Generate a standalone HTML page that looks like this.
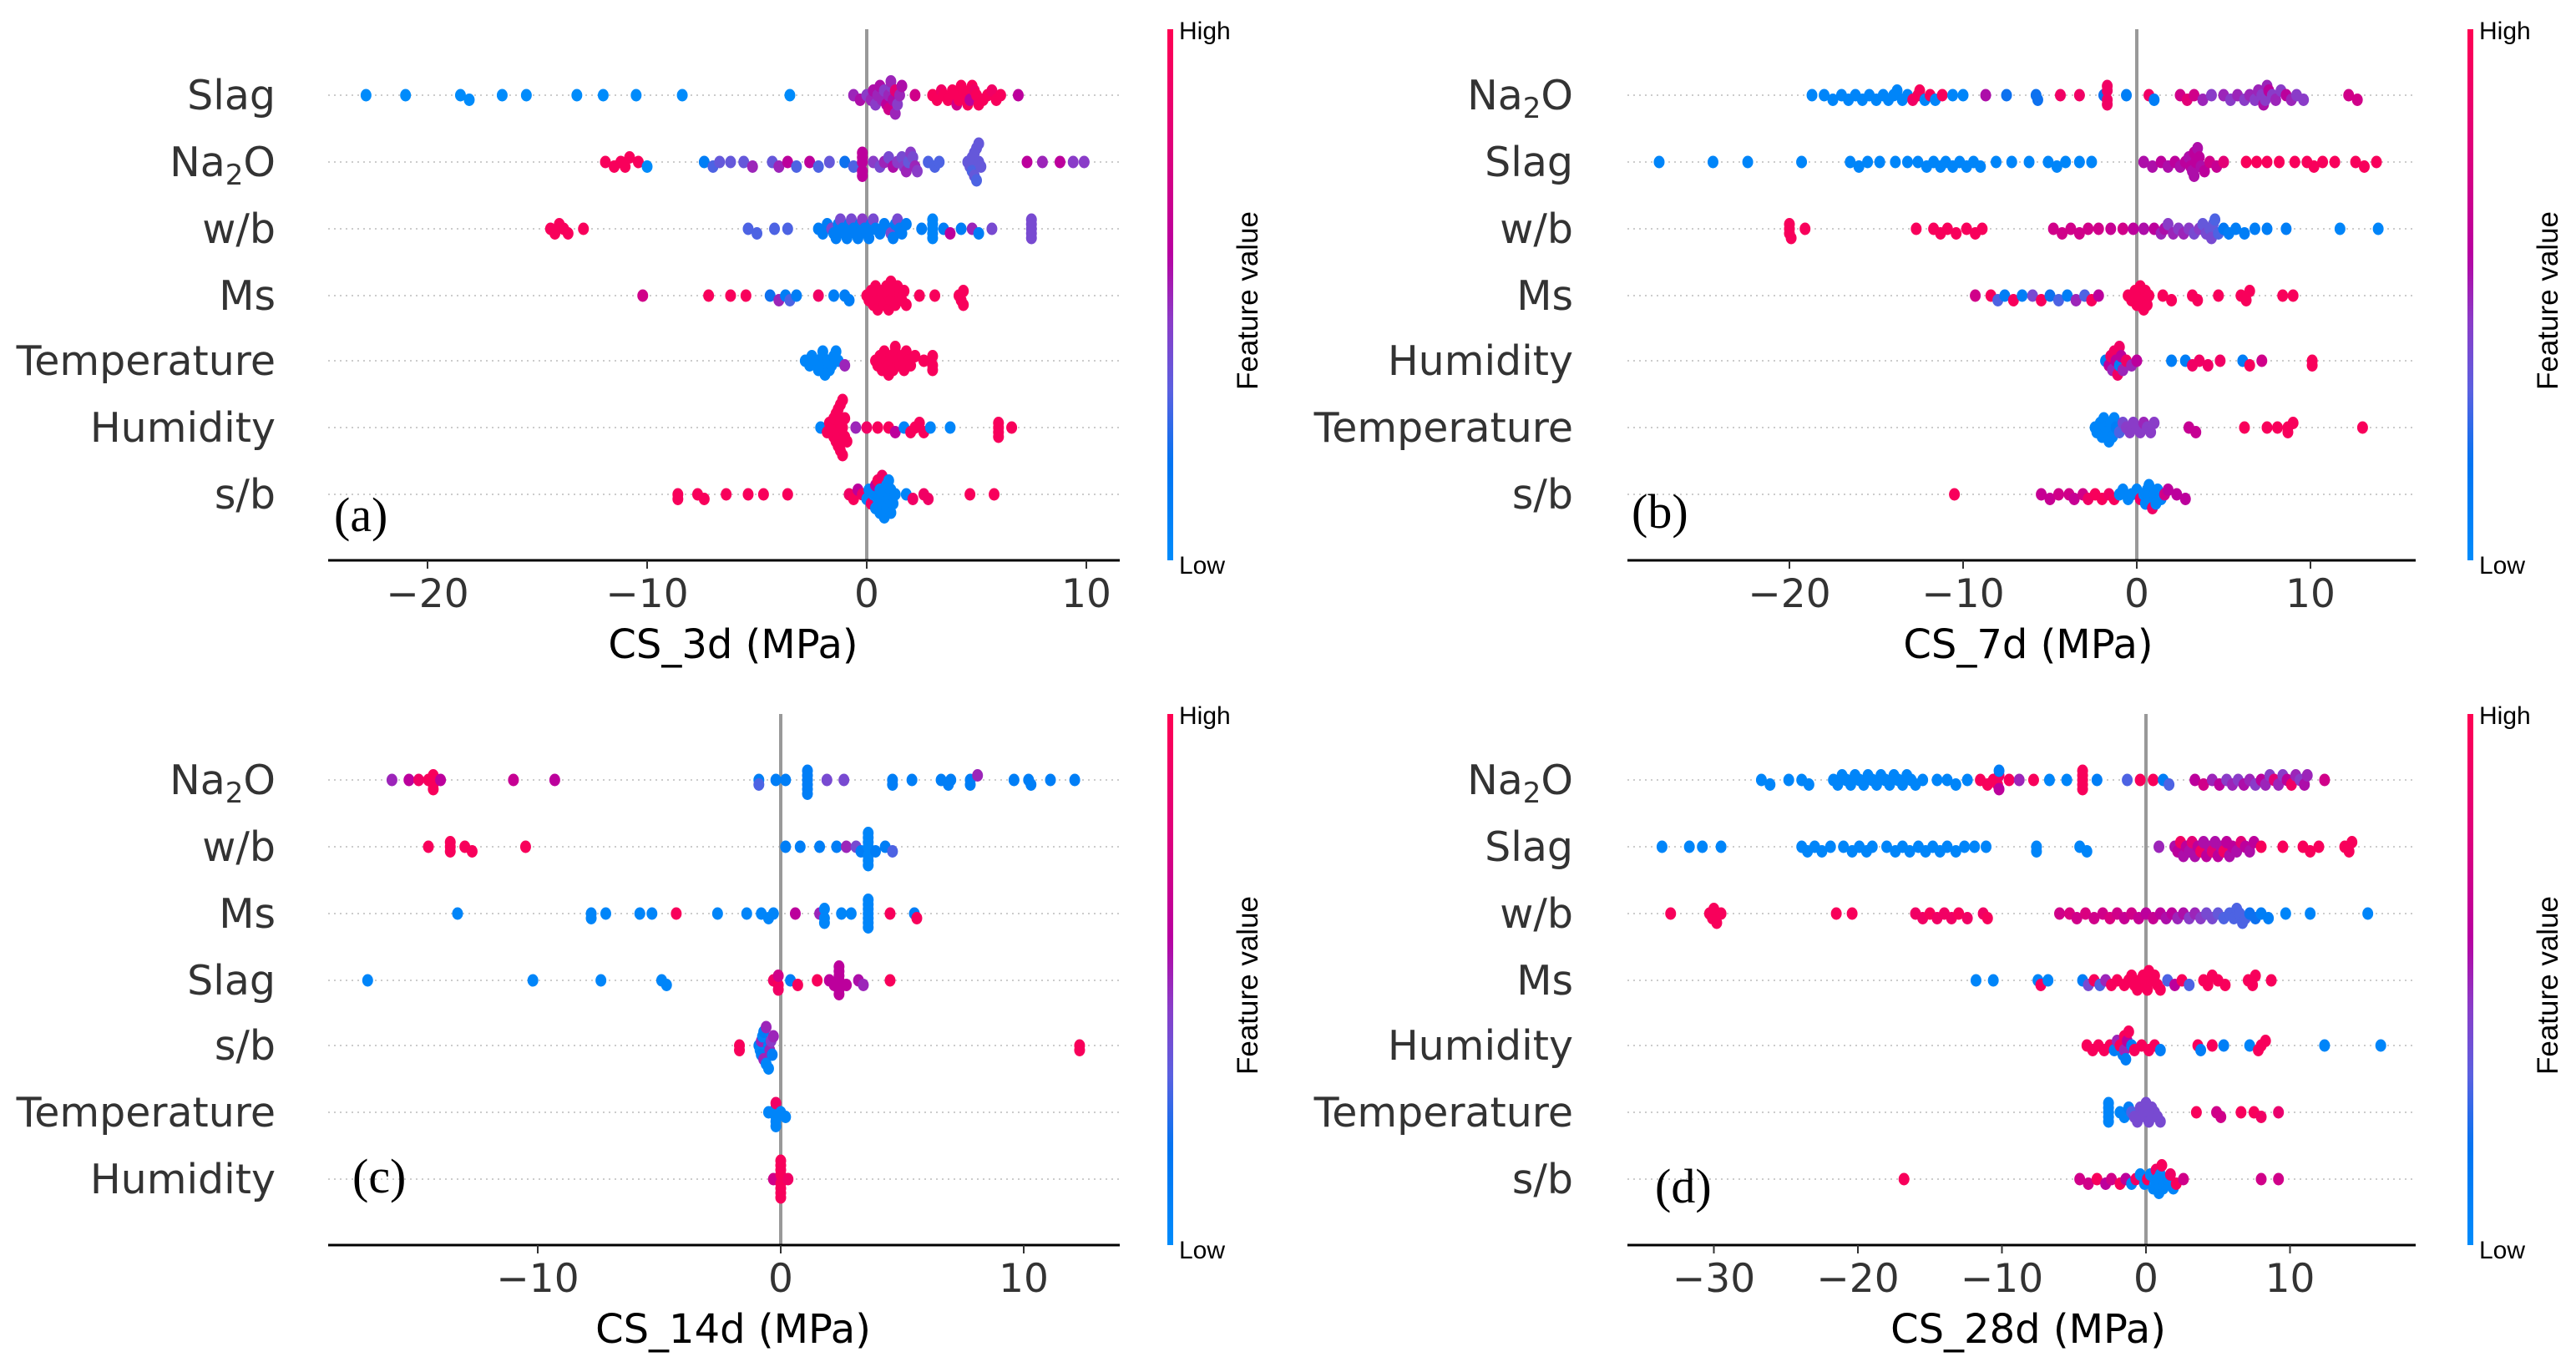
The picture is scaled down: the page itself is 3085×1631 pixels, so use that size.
<!DOCTYPE html>
<html><head><meta charset="utf-8">
<style>
html,body{margin:0;padding:0;background:#fff;}
svg{display:block;}
</style></head>
<body>
<svg id="fig" width="3085" height="1631" viewBox="0 0 3085 1631" xmlns="http://www.w3.org/2000/svg">
<defs>
<linearGradient id="cbgrad" x1="0" y1="1" x2="0" y2="0">
<stop offset="0" stop-color="#008bfb"/>
<stop offset="0.18" stop-color="#0074f2"/>
<stop offset="0.32" stop-color="#5a60e0"/>
<stop offset="0.45" stop-color="#8a3cc8"/>
<stop offset="0.58" stop-color="#b800a0"/>
<stop offset="0.78" stop-color="#e0007a"/>
<stop offset="1" stop-color="#ff0052"/>
</linearGradient>
</defs>
</svg>
<script>
// ---------- DATA ----------
const featuresA = ["Slag","Na2O","w/b","Ms","Temperature","Humidity","s/b"];
const ticksA = [-20,-10,0,10];
const xA = [
 [-22.8,-21,-18.5,-18.1,-16.6,-15.5,-13.2,-12,-10.5,-8.4,-3.5,-0.6,-0.3,0,0.2,0.3,0.4,0.5,0.6,0.7,0.8,0.9,1,1,1.1,1.1,1.2,1.3,1.3,1.4,1.5,1.6,2.2,3.0,3.2,3.4,3.5,3.7,3.9,4.0,4.1,4.2,4.3,4.4,4.5,4.6,4.7,4.8,4.9,5.0,5.1,5.3,5.5,5.7,5.9,6.1,6.9],
 [-11.9,-11.5,-11.2,-11.0,-10.8,-10.4,-10.0,-7.4,-7.0,-6.7,-6.2,-5.6,-5.2,-4.3,-4.0,-3.6,-3.2,-2.6,-2.2,-1.7,-1.0,-0.6,-0.2,-0.2,-0.2,-0.2,-0.2,0.3,0.6,0.8,1.0,1.2,1.4,1.6,1.7,1.8,1.9,2.0,2.1,2.2,2.3,2.8,3.1,3.3,4.6,4.7,4.8,4.8,4.9,4.9,5.0,5.0,5.1,5.1,5.2,7.3,8.0,8.8,9.4,9.9],
 [-14.4,-14.2,-14.0,-13.8,-13.6,-12.9,-5.4,-5.0,-4.2,-3.6,-2.2,-2.0,-1.8,-1.6,-1.5,-1.4,-1.3,-1.2,-1.1,-1.0,-0.9,-0.8,-0.7,-0.6,-0.5,-0.4,-0.3,-0.2,-0.1,0,0.1,0.2,0.3,0.4,0.6,0.8,1.0,1.1,1.2,1.3,1.4,1.5,1.6,1.8,2.5,3.0,3.0,3.0,3.0,3.0,3.5,3.8,4.3,4.8,5.1,5.7,7.5,7.5,7.5,7.5,7.5],
 [-10.2,-7.2,-6.2,-5.5,-4.4,-4.0,-3.7,-3.5,-3.2,-2.2,-1.5,-1.0,-0.8,0,0.1,0.2,0.3,0.4,0.5,0.5,0.6,0.7,0.8,0.9,1.0,1.0,1.1,1.1,1.2,1.3,1.4,1.5,1.6,1.7,1.8,2.4,3.1,4.2,4.3,4.4,4.4],
 [-2.8,-2.6,-2.5,-2.3,-2.2,-2.1,-2.0,-2.0,-1.9,-1.8,-1.7,-1.6,-1.5,-1.4,-1.3,-1.0,0.4,0.5,0.6,0.7,0.8,0.9,1.0,1.0,1.1,1.2,1.3,1.3,1.4,1.5,1.6,1.7,1.8,1.9,2.0,2.2,2.6,3.0,3.0,3.0],
 [-2.1,-1.8,-1.7,-1.6,-1.5,-1.5,-1.4,-1.4,-1.3,-1.3,-1.3,-1.2,-1.2,-1.2,-1.1,-1.1,-1.1,-1.0,-1.0,-0.9,-0.5,0.0,0.5,1.0,1.3,1.7,2.0,2.2,2.4,2.6,2.9,3.8,6.0,6.0,6.0,6.0,6.6],
 [-8.6,-8.6,-7.7,-7.4,-6.4,-5.4,-4.7,-3.6,-0.8,-0.6,-0.4,-0.2,0,0.1,0.2,0.3,0.4,0.4,0.5,0.5,0.6,0.6,0.7,0.7,0.8,0.8,0.9,0.9,1.0,1.0,1.1,1.1,1.2,1.3,1.8,2.1,2.6,2.8,4.7,5.8]
];
const cA = [
 [0,0,0,0,0,0,0,0,0,0,0,.5,.55,.45,.5,.55,.45,.5,.55,.5,.45,.6,.5,.7,.45,.5,.55,.8,.5,.45,.5,.55,.7,.95,.95,.9,.95,.95,.95,.95,.7,.95,.95,.95,.95,.95,.6,.95,.9,.95,.95,.95,.95,.9,.95,.95,.6],
 [.95,.95,.95,.95,.95,.95,0,.1,.3,.35,.35,.35,.5,.35,.5,.6,.3,.6,.3,.35,.2,.3,.6,.6,.6,.6,.6,.45,.4,.5,.4,.55,.45,.4,.45,.5,.35,.45,.4,.5,.45,.3,.3,.3,.35,.35,.35,.3,.35,.35,.35,.3,.35,.35,.35,.6,.5,.6,.45,.45],
 [.95,.95,.95,.95,.95,.95,.3,.3,.3,.3,.1,.1,.1,.4,.1,.1,.1,.4,.1,.1,.1,.1,.4,.1,.1,.1,.1,.45,.1,.1,.1,.1,.4,.1,.1,.1,.1,.4,.1,.1,.4,.1,.1,.1,.1,.05,.05,.05,.05,.05,.1,.6,.1,.5,.1,.4,.4,.4,.4,.4,.4],
 [.7,.95,.95,.95,.2,.5,.1,.3,.1,.9,.1,.1,.1,.95,.95,.95,.95,.95,.95,.95,.95,.95,.95,.95,.95,.95,.95,.95,.95,.95,.95,.95,.95,.95,.95,.95,.95,.95,.95,.95,.95],
 [.05,.05,.05,.05,.05,.05,.05,.05,.05,.05,.05,.05,.05,.05,.05,.5,.95,.95,.95,.95,.95,.95,.95,.95,.95,.95,.95,.95,.95,.95,.95,.95,.95,.95,.95,.95,.95,.95,.95,.95],
 [.05,.95,.95,.95,.95,.95,.95,.95,.95,.95,.95,.95,.95,.95,.95,.95,.95,.95,.95,.95,.5,.9,.95,.95,.6,.05,.95,.95,.95,.95,.05,.05,.95,.95,.95,.95,.95],
 [.95,.95,.95,.95,.95,.95,.95,.95,.9,.95,.6,.9,.05,.05,.9,.05,.6,.05,.05,.95,.05,.05,.05,.9,.05,.05,.05,.05,.05,.05,.05,.05,.05,.05,.05,.9,.9,.9,.95,.95]
];

const featuresB = ["Na2O","Slag","w/b","Ms","Humidity","Temperature","s/b"];
const ticksB = [-20,-10,0,10];
const xB = [
 [-18.7,-18.0,-17.5,-17.0,-16.6,-16.2,-15.8,-15.4,-15.0,-14.6,-14.3,-14.0,-13.8,-13.5,-13.2,-12.9,-12.6,-12.5,-12.2,-11.9,-11.6,-11.2,-10.6,-10.0,-8.7,-7.5,-5.8,-5.7,-4.4,-3.3,-1.9,-1.7,-1.7,-1.7,-1.7,-0.6,0.7,1.0,2.5,2.9,3.3,3.8,4.3,5.0,5.4,5.8,6.2,6.5,6.8,7.0,7.2,7.3,7.4,7.5,7.6,7.8,8.0,8.3,8.6,8.9,9.2,9.6,12.2,12.7],
 [-27.5,-24.4,-22.4,-19.3,-16.5,-16.0,-15.5,-14.8,-13.9,-13.2,-12.6,-12.1,-11.7,-11.3,-11.0,-10.6,-10.2,-9.8,-9.4,-9.0,-8.1,-7.2,-6.2,-5.1,-4.6,-4.1,-3.3,-2.6,0.4,0.9,1.4,1.8,2.2,2.5,2.8,3.0,3.1,3.2,3.3,3.3,3.4,3.5,3.6,3.7,3.9,4.2,4.6,5.0,6.3,6.9,7.5,8.2,9.1,9.8,10.2,10.7,11.4,12.6,13.1,13.8],
 [-20.0,-20.0,-20.0,-19.9,-19.1,-12.7,-11.7,-11.3,-10.9,-10.4,-9.8,-9.3,-8.9,-4.8,-4.3,-3.8,-3.3,-2.8,-2.2,-1.5,-0.8,-0.2,0.4,1.0,1.4,1.6,1.8,2.1,2.4,2.7,3.0,3.3,3.6,3.8,4.0,4.2,4.3,4.4,4.5,4.7,5.0,5.3,5.7,6.2,6.8,7.5,8.6,11.7,13.9],
 [-9.3,-8.4,-8.0,-7.6,-7.1,-6.6,-6.0,-5.5,-5.0,-4.5,-4.0,-3.5,-3.0,-2.6,-2.2,-0.5,-0.3,-0.1,0,0.1,0.2,0.3,0.4,0.5,0.6,0.7,1.5,2.0,3.2,3.5,4.7,6.0,6.3,6.5,8.4,9.0],
 [-1.8,-1.6,-1.5,-1.4,-1.3,-1.2,-1.1,-1.0,-1.0,-0.9,-0.8,-0.6,-0.3,0,2.0,2.8,3.2,3.6,4.1,4.8,6.1,6.5,7.2,10.1,10.1],
 [-2.4,-2.3,-2.1,-2.0,-1.9,-1.8,-1.7,-1.6,-1.5,-1.4,-1.3,-1.2,-1.0,-0.8,-0.6,-0.4,-0.2,0,0.2,0.4,0.6,0.8,1.0,3.0,3.4,6.2,7.5,8.1,8.7,8.7,9.0,13.0],
 [-10.5,-5.5,-5.0,-4.5,-3.9,-3.6,-3.1,-2.8,-2.4,-2.0,-1.6,-1.3,-1.0,-0.8,-0.5,-0.3,0,0.2,0.4,0.5,0.6,0.7,0.8,0.9,1.0,1.1,1.2,1.4,1.6,1.8,2.3,2.8]
];
const cB = [
 [.05,.05,.05,.05,.05,.05,.05,.05,.05,.05,.05,.05,.05,.05,.05,.9,.95,.95,.05,.95,.05,.95,.05,.05,.55,.2,.2,.2,.9,.9,.2,.9,.9,.9,.9,.1,.9,.1,.7,.8,.7,.5,.45,.5,.45,.5,.45,.5,.45,.5,.45,.55,.45,.5,.6,.45,.5,.45,.6,.5,.45,.45,.7,.7],
 [.05,.05,.05,.05,.05,.05,.05,.05,.05,.05,.05,.05,.05,.05,.05,.05,.05,.05,.05,.05,.05,.05,.05,.05,.05,.05,.05,.05,.55,.55,.6,.55,.6,.55,.6,.55,.6,.55,.6,.55,.6,.55,.6,.55,.6,.7,.65,.8,.95,.95,.95,.95,.95,.95,.95,.95,.95,.95,.95,.95],
 [.95,.95,.95,.95,.95,.95,.95,.95,.95,.95,.95,.95,.95,.7,.7,.7,.7,.7,.7,.65,.7,.6,.55,.6,.5,.55,.45,.5,.45,.5,.45,.4,.45,.35,.4,.35,.4,.35,.3,.3,.15,.1,.1,.1,.1,.1,.1,.05,.05],
 [.7,.95,.3,.1,.95,.1,.4,.95,.2,.3,.1,.5,.3,.95,.6,.95,.95,.95,.95,.95,.95,.95,.95,.95,.95,.95,.95,.95,.95,.95,.95,.95,.95,.95,.95,.95],
 [.1,.6,.9,.5,.9,.6,.9,.1,.9,.6,.5,.9,.5,.6,.1,.1,.9,.9,.9,.9,.1,.95,.7,.95,.95],
 [.05,.05,.05,.05,.05,.05,.05,.05,.05,.05,.05,.1,.3,.4,.45,.45,.45,.45,.45,.5,.45,.45,.45,.65,.65,.95,.95,.95,.95,.95,.95,.95],
 [.95,.65,.65,.7,.7,.65,.7,.9,.95,.95,.9,.95,.05,.05,.05,.05,.05,.9,.05,.05,.05,.05,.05,.9,.05,.05,.05,.05,.7,.6,.6,.6]
];

const featuresC = ["Na2O","w/b","Ms","Slag","s/b","Temperature","Humidity"];
const ticksC = [-10,0,10];
const xC = [
 [-16.0,-15.3,-14.9,-14.5,-14.3,-14.3,-14.3,-14.0,-11.0,-9.3,-0.9,-0.9,-0.2,0.2,1.1,1.1,1.1,1.1,1.1,1.1,1.9,2.6,4.6,4.6,5.4,6.6,6.9,7.0,7.8,7.8,8.1,9.6,10.2,10.3,11.1,12.1],
 [-14.5,-13.6,-13.6,-13.6,-13.0,-12.7,-10.5,0.2,0.8,1.6,2.3,2.7,3.1,3.3,3.6,3.6,3.6,3.6,3.6,3.6,3.6,3.9,4.3,4.6],
 [-13.3,-7.8,-7.8,-7.2,-5.8,-5.3,-4.3,-2.6,-1.4,-0.8,-0.5,-0.3,0.6,1.6,1.8,1.8,1.8,2.5,2.9,3.6,3.6,3.6,3.6,3.6,3.6,3.6,4.5,5.5,5.6],
 [-17.0,-10.2,-7.4,-4.9,-4.7,-0.3,-0.1,-0.1,-0.1,0.4,0.7,1.5,2.0,2.2,2.4,2.4,2.4,2.4,2.4,2.4,2.7,3.2,3.4,4.5],
 [-1.7,-1.7,-0.9,-0.85,-0.8,-0.8,-0.75,-0.7,-0.7,-0.6,-0.6,-0.5,-0.5,-0.45,-0.4,-0.35,-0.3,12.3,12.3],
 [-0.5,-0.2,-0.2,-0.2,-0.2,-0.2,0,0.2],
 [-0.3,0,0,0,0,0,0,0,0,0.3]
];
const cC = [
 [.5,.6,.9,.95,.95,.95,.95,.6,.65,.6,.1,.3,.1,.1,.1,.1,.1,.1,.1,.1,.4,.4,.1,.1,.1,.1,.1,.1,.1,.1,.5,.1,.1,.1,.1,.1],
 [.95,.95,.95,.95,.95,.95,.95,.1,.1,.1,.1,.5,.4,.1,.05,.05,.05,.05,.05,.05,.05,.1,.1,.3],
 [.05,.05,.05,.05,.05,.05,.95,.05,.05,.05,.05,.05,.6,.5,.05,.05,.05,.05,.05,.05,.05,.05,.05,.05,.05,.05,.95,.1,.95],
 [.05,.05,.05,.05,.05,.9,.95,.7,.9,.1,.95,.95,.6,.6,.6,.6,.6,.6,.6,.6,.6,.55,.5,.95],
 [.95,.95,.1,.05,.5,.1,.05,.5,.1,.05,.5,.1,.05,.5,.45,.1,.5,.95,.95],
 [.05,.05,.05,.05,.9,.05,.05,.05],
 [.7,.95,.95,.95,.95,.95,.95,.95,.95,.9]
];

const featuresD = ["Na2O","Slag","w/b","Ms","Humidity","Temperature","s/b"];
const ticksD = [-30,-20,-10,0,10];
const xD = [
 [-26.7,-26.1,-24.8,-23.9,-23.4,-21.7,-21.4,-21.1,-20.8,-20.5,-20.2,-19.9,-19.6,-19.3,-19.0,-18.7,-18.4,-18.1,-17.8,-17.5,-17.2,-16.9,-16.6,-16.3,-16.0,-15.5,-14.5,-13.8,-13.2,-12.4,-11.5,-11.0,-10.6,-10.3,-10.2,-10.2,-10.2,-9.5,-8.8,-7.8,-6.7,-5.5,-4.4,-4.4,-4.4,-4.4,-4.4,-3.4,-1.3,-0.4,0.5,1.2,1.6,3.4,4.0,4.6,5.1,5.6,6.0,6.4,6.8,7.2,7.6,8.0,8.3,8.6,8.9,9.2,9.5,9.8,10.1,10.4,10.7,11.0,11.2,12.4],
 [-33.6,-31.7,-30.8,-29.5,-23.9,-23.5,-23.0,-22.5,-21.9,-21.0,-20.4,-19.9,-19.4,-19.0,-18.0,-17.4,-16.9,-16.4,-15.8,-15.3,-14.8,-14.3,-13.8,-13.2,-12.6,-11.9,-11.1,-7.6,-7.6,-4.6,-4.1,0.9,2.0,2.2,2.4,2.6,2.8,3.0,3.2,3.4,3.6,3.8,4.0,4.2,4.4,4.6,4.8,5.0,5.2,5.4,5.6,5.8,6.0,6.3,6.6,6.9,7.2,7.5,8.0,9.5,10.9,11.4,12.0,13.8,14.1,14.3],
 [-33.0,-30.3,-30.1,-30.0,-29.8,-29.5,-21.5,-20.4,-16.0,-15.5,-15.0,-14.5,-14.0,-13.5,-13.0,-12.4,-11.3,-11.0,-6.0,-5.3,-4.8,-4.2,-3.6,-3.0,-2.5,-2.0,-1.5,-1.0,-0.5,0,0.5,1.0,1.4,1.8,2.2,2.6,3.0,3.4,3.8,4.2,4.6,5.0,5.4,5.8,6.1,6.3,6.5,6.7,6.9,7.2,7.6,8.0,8.5,9.7,11.4,15.4],
 [-11.8,-10.6,-7.5,-7.3,-6.8,-4.4,-4.0,-3.6,-3.2,-2.8,-2.4,-2.0,-1.5,-1.2,-1.0,-0.8,-0.6,-0.4,-0.2,0,0.1,0.2,0.4,0.6,0.8,1.0,1.5,2.0,2.5,3.0,4.0,4.3,4.6,5.0,5.5,7.1,7.4,7.6,8.7],
 [-4.1,-3.7,-3.3,-2.9,-2.5,-2.2,-2.0,-1.8,-1.6,-1.5,-1.5,-1.4,-1.3,-1.2,-1.0,-0.8,-0.3,0.2,0.6,1.0,3.6,3.8,4.6,5.4,7.2,7.8,8.0,8.3,12.4,16.3],
 [-2.6,-2.6,-2.6,-2.6,-2.6,-1.8,-1.5,-1.2,-1.0,-0.8,-0.6,-0.4,-0.2,0,0,0.2,0.4,0.6,0.8,1.0,3.5,4.9,5.2,6.6,7.5,8.0,9.2],
 [-16.8,-4.6,-4.0,-3.4,-2.8,-2.4,-1.8,-1.4,-1.0,-0.7,-0.4,-0.1,0.1,0.3,0.5,0.6,0.7,0.8,0.9,1.0,1.1,1.2,1.3,1.5,1.7,1.9,2.1,2.6,8.0,9.2]
];
const cD = [
 [.05,.05,.05,.05,.05,.05,.05,.05,.05,.05,.05,.05,.05,.05,.05,.05,.05,.05,.05,.05,.05,.05,.05,.05,.05,.05,.05,.05,.05,.05,.95,.95,.95,.95,.9,.6,.1,.95,.5,.95,.05,.05,.95,.95,.95,.95,.95,.1,.3,.95,.95,.1,.3,.6,.7,.5,.6,.45,.5,.45,.55,.5,.45,.6,.5,.45,.8,.5,.45,.6,.9,.5,.45,.55,.5,.7],
 [.05,.05,.05,.05,.05,.05,.05,.05,.05,.05,.05,.05,.05,.05,.05,.05,.05,.05,.05,.05,.05,.05,.05,.05,.05,.05,.05,.05,.05,.05,.05,.5,.55,.6,.9,.55,.6,.55,.8,.55,.6,.9,.55,.6,.55,.8,.55,.6,.55,.9,.6,.55,.6,.55,.8,.6,.55,.6,.95,.95,.95,.95,.95,.95,.95,.95],
 [.95,.95,.95,.95,.95,.95,.95,.95,.9,.9,.95,.9,.9,.9,.95,.9,.9,.95,.7,.75,.7,.75,.7,.7,.75,.7,.65,.7,.65,.6,.65,.6,.55,.6,.5,.55,.45,.5,.45,.4,.4,.35,.3,.3,.3,.3,.3,.3,.3,.2,.2,.1,.1,.05,.05,.05],
 [.05,.05,.05,.95,.05,.1,.4,.95,.3,.5,.95,.95,.95,.95,.95,.95,.95,.95,.95,.95,.95,.95,.95,.95,.95,.95,.3,.6,.95,.3,.95,.95,.95,.95,.95,.95,.95,.95,.95],
 [.95,.95,.95,.95,.95,.1,.5,.95,.1,.5,.95,.1,.6,.95,.1,.95,.95,.95,.95,.1,.95,.1,.95,.1,.05,.95,.95,.95,.05,.05],
 [.05,.05,.05,.05,.05,.05,.05,.1,.3,.4,.4,.4,.4,.4,.4,.4,.4,.4,.4,.4,.95,.7,.7,.95,.95,.9,.85],
 [.95,.7,.7,.95,.6,.7,.95,.6,.05,.9,.05,.05,.95,.05,.05,.05,.9,.05,.05,.05,.95,.05,.05,.05,.9,.05,.95,.7,.7,.7]
];

// ---------- LAYOUT ----------
const panels = [
 {id:"a", feats:featuresA, xs:xA, cs:cA, ticks:ticksA, ox:0,    oy:0,   x0:1038, ppu:26.3, axL:393,  axR:1341, labR:330,  cbX:1398, title:"CS_3d (MPa)",  titleX:878, tag:"(a)", tagX:400,  tagY:636},
 {id:"b", feats:featuresB, xs:xB, cs:cB, ticks:ticksB, ox:1540, oy:0,   x0:1019, ppu:20.8, axL:409,  axR:1353, labR:344,  cbX:1415, title:"CS_7d (MPa)",  titleX:889, tag:"(b)", tagX:414,  tagY:632},
 {id:"c", feats:featuresC, xs:xC, cs:cC, ticks:ticksC, ox:0,    oy:820, x0:935,  ppu:29.1, axL:393,  axR:1341, labR:330,  cbX:1398, title:"CS_14d (MPa)", titleX:878, tag:"(c)", tagX:422,  tagY:608},
 {id:"d", feats:featuresD, xs:xD, cs:cD, ticks:ticksD, ox:1540, oy:820, x0:1030, ppu:17.25,axL:409,  axR:1353, labR:344,  cbX:1415, title:"CS_28d (MPa)", titleX:889, tag:"(d)", tagX:442,  tagY:620}
];
const rowY = [114,194,274,354,432,512,592];
const axisY = 671, topY = 35;

const NS = "http://www.w3.org/2000/svg";
const svg = document.getElementById('fig');
function mk(tag, attrs, parent){
  const e = document.createElementNS(NS, tag);
  for (const k in attrs) e.setAttribute(k, attrs[k]);
  (parent||svg).appendChild(e);
  return e;
}
const stops = [[0,[0,139,251]],[0.18,[0,116,242]],[0.32,[90,96,224]],[0.45,[138,60,200]],[0.58,[184,0,160]],[0.78,[224,0,122]],[1,[255,0,82]]];
function cmap(v){
  for (let i=1;i<stops.length;i++){
    if (v<=stops[i][0]){
      const t=(v-stops[i-1][0])/(stops[i][0]-stops[i-1][0]);
      const a=stops[i-1][1], b=stops[i][1];
      return `rgb(${Math.round(a[0]+(b[0]-a[0])*t)},${Math.round(a[1]+(b[1]-a[1])*t)},${Math.round(a[2]+(b[2]-a[2])*t)})`;
    }
  }
  return 'rgb(255,0,82)';
}
const FS = '"DejaVu Sans","Liberation Sans",sans-serif';

panels.forEach(p=>{
  const g = mk('g',{transform:`translate(${p.ox},${p.oy})`});
  
  
  const sx = v => p.x0 + v*p.ppu;
  p.feats.forEach((f,i)=>{
    const y = rowY[i];
    const ln = mk('line',{x1:p.axL,x2:p.axR,y1:y,y2:y,stroke:'#cccccc','stroke-width':2,'stroke-dasharray':'2,5'},g);
    
    
    const t = mk('text',{x:p.labR,y:y+17,'text-anchor':'end','font-size':49,fill:'#333333','font-family':FS},g);
    
    
    if (f==="Na2O"){
      t.appendChild(document.createTextNode('Na'));
      const s = mk('tspan',{'font-size':34,dy:10},t); s.textContent='2';
      const o = mk('tspan',{dy:-10},t); o.textContent='O';
    } else t.textContent=f;
  });
  const zl = mk('line',{x1:sx(0),x2:sx(0),y1:topY,y2:axisY,stroke:'#999999','stroke-width':4},g);
  
  
  p.xs.forEach((row,i)=>{
    const placed = [];
    const order = row.map((v,j)=>j).sort((a,b)=>row[a]-row[b]);
    order.forEach(j=>{
      const px = sx(row[j]);
      let lvl=0;
      for (let k=0;k<40;k++){
        const cand = k===0?0:(k%2? (k+1)/2 : -k/2);
        if (!placed.some(q=>q.l===cand && Math.abs(q.x-px)<11)){ lvl=cand; break; }
      }
      placed.push({x:px,l:lvl});
      const d = mk('ellipse',{cx:px,cy:rowY[i]+lvl*5.5,rx:6.5,ry:7.5,fill:cmap(p.cs[i][j])},g);
      
      
    });
  });
  const ax = mk('line',{x1:p.axL,x2:p.axR,y1:axisY,y2:axisY,stroke:'#000','stroke-width':3},g);
  
  
  p.ticks.forEach(tv=>{
    const tk = mk('line',{x1:sx(tv),x2:sx(tv),y1:axisY,y2:axisY+10,stroke:'#333','stroke-width':2},g);
    
    
    const tl = mk('text',{x:sx(tv),y:axisY+56,'text-anchor':'middle','font-size':47,fill:'#333333','font-family':FS},g);
    
    
    tl.textContent = tv<0 ? '\u2212'+Math.abs(tv) : String(tv);
  });
  const xt = mk('text',{x:p.titleX,y:axisY+117,'text-anchor':'middle','font-size':48,fill:'#000','font-family':FS},g);
  
  
  xt.textContent = p.title;
  const tg = mk('text',{x:p.tagX,y:p.tagY,'font-size':58,fill:'#000','font-family':'"Liberation Serif",serif'},g);
  
  
  tg.textContent = p.tag;
  const cb = mk('rect',{x:p.cbX,y:topY,width:7,height:axisY-topY,fill:'url(#cbgrad)'},g);
  
  
  const hi = mk('text',{x:p.cbX+14,y:topY+12,'font-size':30,fill:'#000','font-family':'"Liberation Sans",sans-serif'},g);
  
  
  hi.textContent='High';
  const lo = mk('text',{x:p.cbX+14,y:axisY+16,'font-size':30,fill:'#000','font-family':'"Liberation Sans",sans-serif'},g);
  
  
  lo.textContent='Low';
  const fv = mk('text',{x:0,y:0,'font-size':35,fill:'#000','text-anchor':'middle','font-family':'"Liberation Sans",sans-serif',transform:`translate(${p.cbX+108},360) rotate(-90)`},g);
  
  
  fv.textContent='Feature value';
});
</script>
</body></html>
